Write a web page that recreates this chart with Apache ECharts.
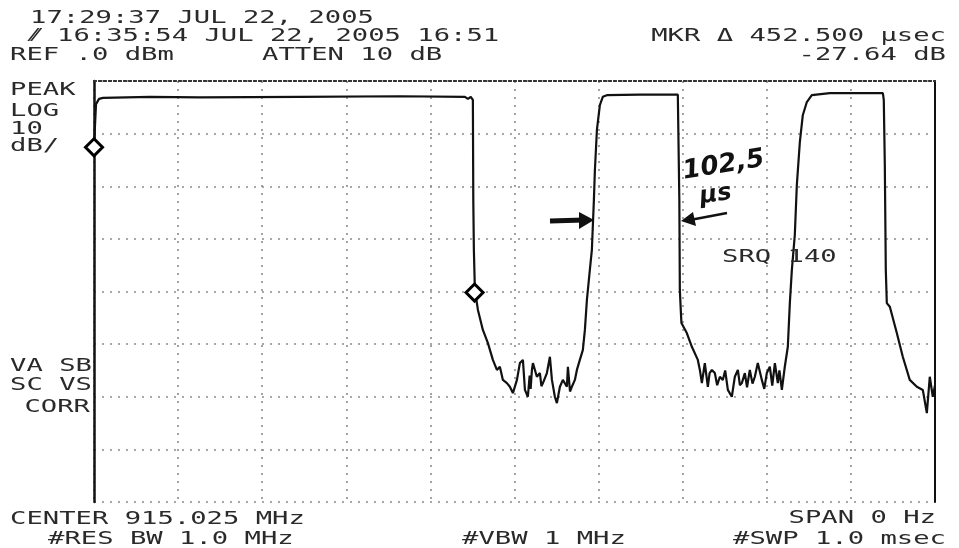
<!DOCTYPE html>
<html>
<head>
<meta charset="utf-8">
<script src="https://cdn.jsdelivr.net/npm/echarts@6/dist/echarts.min.js"></script>
<style>html,body{margin:0;padding:0;background:#fff}#c{width:959px;height:548px}</style>
</head>
<body>
<div id="c"></div>
<script>
// Sweep time (µs) and trace level (dBm)
var traceTimeUs = [
 0, 1.2, 2.4, 6, 10.7, 66.6, 126, 245, 364, 441, 444.6, 448, 450.5, 451, 451.7, 452.9,
 456.5, 462.4, 468.4, 474.3, 479.1, 482.6, 486.2, 491.0, 494.5, 498.1, 502.9, 506.4, 510.0, 512.4, 515.9, 518.0, 519.2, 520.7, 521.9, 526.6, 530.2, 532.0, 533.8, 538.5, 542.1, 544.5, 548.0, 550.4, 554.0, 557.5, 562.3, 563.5, 566.0, 568.2, 571.8, 574.2, 577.7, 581.3, 583.7, 586.1, 589.6,
 592, 594.4, 595.6, 598, 601.5, 605, 609.8, 649, 694.2,
 695.4, 696.0, 696.6, 697.7, 698.5,
 704.9, 710.9, 718.0, 720.4, 722.8, 726.3, 729.9, 732.0, 734.7, 738.2, 741.0, 744.2, 747.7, 750.5, 753.7, 758.4, 762.0, 765.6, 768.0, 770.3, 773.9, 776.5, 779.8, 783.0, 785.8, 789.3, 794.1, 797.0, 800.0, 803.6, 806.5, 809.6, 813.1, 815.0, 817.9, 821.4, 825.0, 827.4, 829.8,
 833.3, 835.7, 839.3, 842.8, 847.6, 853.5, 874.9, 938.0,
 939.1, 940.3, 941.5, 942.7, 946.3, 954.6, 961.7, 970.0, 978.4, 985.5, 990.3, 993.8, 997.4, 1000
];
var traceLevelDb = [
 -12.7, -8.4, -4.4, -3.4, -3.2, -3.0, -3.1, -3.0, -2.9, -3.0, -3.4, -3.0, -3.6, -22.6, -32.1, -39.7,
 -43.5, -47.3, -49.8, -53.0, -54.9, -54.3, -56.8, -57.4, -58.1, -59.3, -56.8, -53.6, -53.0, -58.7, -60.0, -56.0, -58.5, -54.9, -53.6, -56.2, -55.5, -58.0, -57.4, -55.5, -52.4, -56.8, -60.0, -61.2, -58.1, -56.8, -58.1, -54.3, -59.0, -58.1, -56.8, -54.9, -53.0, -51.1, -47.3, -41.6, -35.9,
 -32.1, -22.6, -16.9, -9.3, -4.6, -3.0, -2.7, -2.6, -2.6,
 -2.9, -22.6, -39.7, -43.5, -46.0,
 -47.9, -50.5, -53.0, -54.9, -57.4, -53.6, -58.1, -55.5, -54.9, -55.5, -57.8, -56.2, -56.8, -55.0, -58.7, -60.0, -56.2, -54.9, -57.8, -57.4, -55.5, -58.2, -54.9, -57.5, -56.2, -53.6, -56.8, -58.5, -55.5, -54.3, -57.9, -53.6, -57.4, -55.0, -58.7, -54.3, -50.5, -42.2, -35.9,
 -29.3, -19.8, -11.6, -6.5, -4.0, -2.7, -2.3, -2.3,
 -3.6, -15.6, -35.9, -42.2, -42.9, -47.9, -52.4, -56.8, -58.1, -58.7, -63.1, -56.2, -60.0, -57.8
];
// Markers (normal marker and delta marker)
var markerTimeUs = [0, 452.5];
var markerLevelDb = [-12.6, -40.2];

// Axis settings: 0..1000 µs (10 div), 0..-80 dBm (8 div, 10 dB/div)
var sweepMin = 0, sweepMax = 1000, sweepDiv = 100;
var refLevel = 0, bottomLevel = -80, dbPerDiv = 10;

// Screen annotation texts
var headerLine1 = '17:29:37 JUL 22, 2005';
var headerLine2 = '16:35:54 JUL 22, 2005 16:51';
var refText = 'REF .0 dBm';
var attenText = 'ATTEN 10 dB';
var mkrText1 = 'MKR \u0394 452.500 \u00b5sec';
var mkrText2 = '-27.64 dB';
var leftTop = ['PEAK', 'LOG', '10', 'dB/'];
var leftBottom = ['VA SB', 'SC VS', ' CORR'];
var centerText = 'CENTER 915.025 MHz';
var rbwText = '#RES BW 1.0 MHz';
var vbwText = '#VBW 1 MHz';
var spanText = 'SPAN 0 Hz';
var swpText = '#SWP 1.0 msec';
var srqText = 'SRQ 140';
var handText1 = '102,5';
var handText2 = '\u03bcs';

var traceData = traceTimeUs.map(function (t, i) { return [t, traceLevelDb[i]]; });
var markerData = markerTimeUs.map(function (t, i) { return [t, markerLevelDb[i]]; });

var FONT = '"DejaVu Sans Mono", "Liberation Mono", monospace';
var TXT = '#2a2a2a';
var SX = 1.6;
function txt(s, x, y, align) {
  return { type: 'text', x: x, y: y, scaleX: SX, scaleY: 1, z: 10,
    style: { text: s, font: '17px ' + FONT, fill: TXT, align: align || 'left', verticalAlign: 'middle' } };
}

var graphics = [
  txt(headerLine1, 30, 19),
  txt(headerLine2, 57, 37),
  txt(refText, 10, 56),
  txt(attenText, 262, 56),
  txt(mkrText1, 946, 37, 'right'),
  txt(mkrText2, 946, 56, 'right'),
  txt(leftTop[0], 10, 91), txt(leftTop[1], 10, 112), txt(leftTop[2], 10, 130), txt(leftTop[3], 10, 147),
  txt(leftBottom[0], 10, 367), txt(leftBottom[1], 10, 386), txt(leftBottom[2], 8, 408),
  txt(centerText, 10, 520),
  txt(rbwText, 48, 540),
  txt(vbwText, 462, 540),
  txt(spanText, 936, 519, 'right'),
  txt(swpText, 946, 540, 'right'),
  txt(srqText, 722, 258),
  // scribble before header line 2
  { type: 'text', x: 32, y: 37, z: 10, style: { text: '\u2044\u2044', font: 'italic bold 17px "DejaVu Sans"', fill: TXT, verticalAlign: 'middle' } },
  // handwritten annotation
  { type: 'text', x: 683, y: 172, rotation: 0.16, z: 10,
    style: { text: handText1, font: 'italic bold 26px "DejaVu Sans"', fill: '#111', verticalAlign: 'middle' } },
  { type: 'text', x: 700, y: 197, rotation: 0.14, z: 10,
    style: { text: handText2, font: 'italic bold 24px "DejaVu Sans"', fill: '#111', verticalAlign: 'middle' } },
  // arrows
  { type: 'polyline', z: 10, shape: { points: [[550, 221], [584, 220]] }, style: { stroke: '#111', lineWidth: 5, fill: null } },
  { type: 'polygon', z: 10, shape: { points: [[579, 212], [594, 220], [579, 229]] }, style: { fill: '#111' } },
  { type: 'polyline', z: 10, shape: { points: [[727, 213], [690, 220]] }, style: { stroke: '#111', lineWidth: 2.5, fill: null } },
  { type: 'polygon', z: 10, shape: { points: [[693, 212], [681, 221], [696, 226]] }, style: { fill: '#111' } }
];

var chart = echarts.init(document.getElementById('c'), null, { renderer: 'canvas' });
chart.setOption({
  backgroundColor: '#ffffff',
  animation: false,
  grid: { left: 94, right: 24, top: 81, bottom: 46 },
  xAxis: [
    { type: 'value', position: 'bottom', min: sweepMin, max: sweepMax, interval: sweepDiv,
      axisLine: { show: true, lineStyle: { color: '#333', width: 2, type: [2, 3] } },
      axisTick: { show: false }, axisLabel: { show: false },
      splitLine: { show: true, lineStyle: { color: '#8c8c8c', width: 1.6, type: [2, 6] } } },
    { type: 'value', position: 'top', min: sweepMin, max: sweepMax, interval: sweepDiv,
      axisLine: { show: true, lineStyle: { color: '#333', width: 2, type: [2, 3] } },
      axisTick: { show: false }, axisLabel: { show: false }, splitLine: { show: false } }
  ],
  yAxis: [
    { type: 'value', position: 'left', min: bottomLevel, max: refLevel, interval: dbPerDiv,
      axisLine: { show: true, onZero: false, lineStyle: { color: '#111', width: 2.5 } },
      axisTick: { show: false }, axisLabel: { show: false },
      splitLine: { show: true, lineStyle: { color: '#8c8c8c', width: 1.6, type: [2, 6] } } },
    { type: 'value', position: 'right', min: bottomLevel, max: refLevel, interval: dbPerDiv,
      axisLine: { show: true, onZero: false, lineStyle: { color: '#111', width: 2 } },
      axisTick: { show: false }, axisLabel: { show: false }, splitLine: { show: false } }
  ],
  series: [
    { type: 'line', xAxisIndex: 0, yAxisIndex: 0, data: traceData, showSymbol: false, symbol: 'none',
      lineStyle: { color: '#111', width: 2.2 }, z: 5, clip: false },
    { type: 'scatter', xAxisIndex: 0, yAxisIndex: 0, data: markerData, symbol: 'diamond', symbolSize: [17, 17],
      itemStyle: { color: '#ffffff', borderColor: '#000', borderWidth: 3, opacity: 1 }, z: 6, clip: false }
  ],
  graphic: graphics
});
</script>
</body>
</html>
